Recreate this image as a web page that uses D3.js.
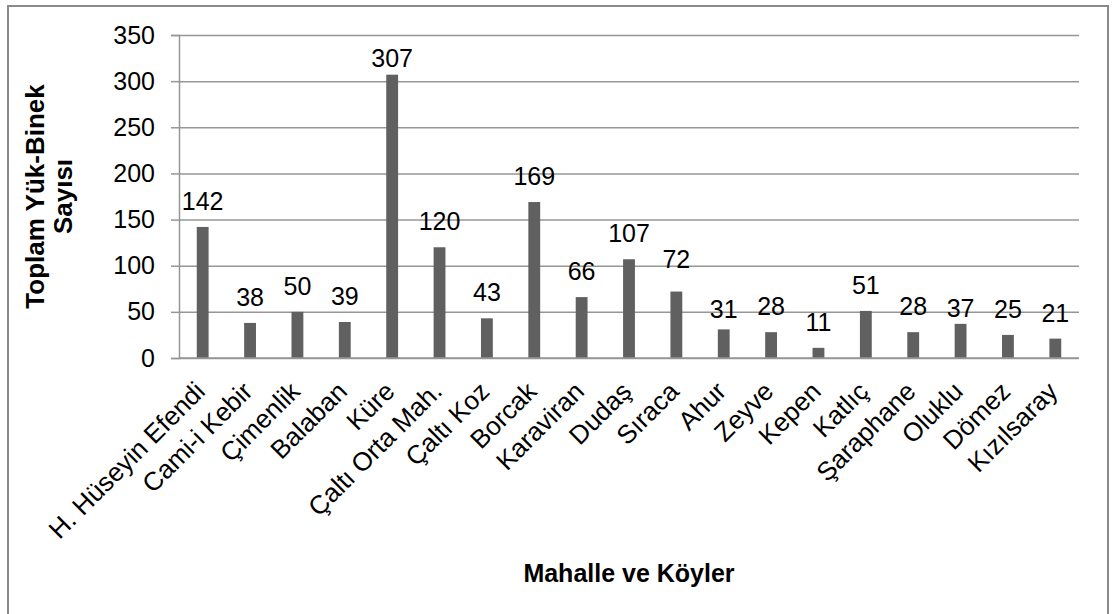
<!DOCTYPE html>
<html>
<head>
<meta charset="utf-8">
<script src="https://cdn.jsdelivr.net/npm/d3@7"></script>
<style>
  body { margin: 0; background: #fff; }
  text { font-family: "Liberation Sans", Arial, sans-serif; fill: #000; }
</style>
</head>
<body>
<svg id="chart" width="1113" height="614"></svg>
<script>
const categories = ["H. Hüseyin Efendi", "Cami-i Kebir", "Çimenlik", "Balaban", "Küre",
	"Çaltı Orta Mah.", "Çaltı Koz", "Borcak", "Karaviran", "Dudaş", "Sıraca", "Ahur",
	"Zeyve", "Kepen", "Katlıç", "Şaraphane", "Oluklu", "Dömez", "Kızılsaray"];
const values = [142, 38, 50, 39, 307, 120, 43, 169, 66, 107, 72, 31, 28, 11, 51, 28, 37, 25, 21];
const yTicks = [0, 50, 100, 150, 200, 250, 300, 350];

// a few labels were moved by hand in the original (px, down is +)
const labelNudge = { "Küre": 9, "Oluklu": 10, "Sıraca": -7, "Ahur": 6 };

const plot = { left: 179, right: 1079, top: 35, bottom: 358 };
const GRID = "#969696", BAR = "#606060";

const svg = d3.select('#chart');

svg.append('rect')
	.attr('x', 8).attr('y', 6)
	.attr('width', 1100).attr('height', 640)
	.attr('fill', 'none')
	.attr('stroke', '#8a8a8a')
	.attr('stroke-width', 2);

const x = d3.scaleBand()
	.domain(categories)
	.range([plot.left, plot.right])
	.paddingInner(0.75)
	.paddingOuter(0.375);

const y = d3.scaleLinear()
	.domain([0, 350])
	.range([plot.bottom, plot.top]);

// gridlines + y ticks
const yAxis = svg.append('g')
	.attr('transform', `translate(${plot.left},0)`)
	.call(d3.axisLeft(y)
		.tickValues(yTicks)
		.tickSize(8)
		.tickPadding(16)
	);
yAxis.select('.domain').attr('stroke', GRID).attr('stroke-width', 1.5);
yAxis.selectAll('.tick line').attr('stroke', GRID).attr('stroke-width', 1.5);
yAxis.selectAll('.tick text')
	.attr('font-size', 25)
	.attr('font-family', '"Liberation Sans", Arial, sans-serif')
	.attr('fill', '#000');
yAxis.selectAll('.tick')
	.append('line')
	.attr('x1', 0).attr('x2', plot.right - plot.left)
	.attr('stroke', GRID).attr('stroke-width', 1.5);

// bars
svg.append('g')
	.selectAll('rect')
	.data(values)
	.join('rect')
	.attr('x', (d, i) => x(categories[i]))
	.attr('width', x.bandwidth())
	.attr('y', d => y(d))
	.attr('height', d => y(0) - y(d))
	.attr('fill', BAR);

// x axis line
svg.append('line')
	.attr('x1', plot.left).attr('x2', plot.right)
	.attr('y1', y(0)).attr('y2', y(0))
	.attr('stroke', GRID).attr('stroke-width', 1.5);

// value labels
svg.append('g')
	.selectAll('text')
	.data(values)
	.join('text')
	.attr('x', (d, i) => x(categories[i]) + x.bandwidth() / 2)
	.attr('y', (d, i) => y(d) - 17 + (labelNudge[categories[i]] || 0))
	.attr('text-anchor', 'middle')
	.attr('font-size', 25)
	.text(d => d);

// category labels
svg.append('g')
	.selectAll('text')
	.data(categories)
	.join('text')
	.attr('transform', d => `translate(${x(d) + x.bandwidth() / 2 + 4},393) rotate(-45)`)
	.attr('text-anchor', 'end')
	.attr('font-size', 26)
	.text(d => d);

// axis titles
svg.append('text')
	.attr('x', (plot.left + plot.right) / 2)
	.attr('y', 582)
	.attr('text-anchor', 'middle')
	.attr('font-size', 25)
	.attr('font-weight', 'bold')
	.text('Mahalle ve Köyler');

const yTitle = svg.append('text')
	.attr('transform', `translate(0,${(plot.top + plot.bottom) / 2}) rotate(-90)`)
	.attr('text-anchor', 'middle')
	.attr('font-size', 26)
	.attr('font-weight', 'bold');
yTitle.append('tspan').attr('x', 0).attr('y', 44).text('Toplam Yük-Binek');
yTitle.append('tspan').attr('x', 0).attr('y', 72).text('Sayısı');
</script>
</body>
</html>
